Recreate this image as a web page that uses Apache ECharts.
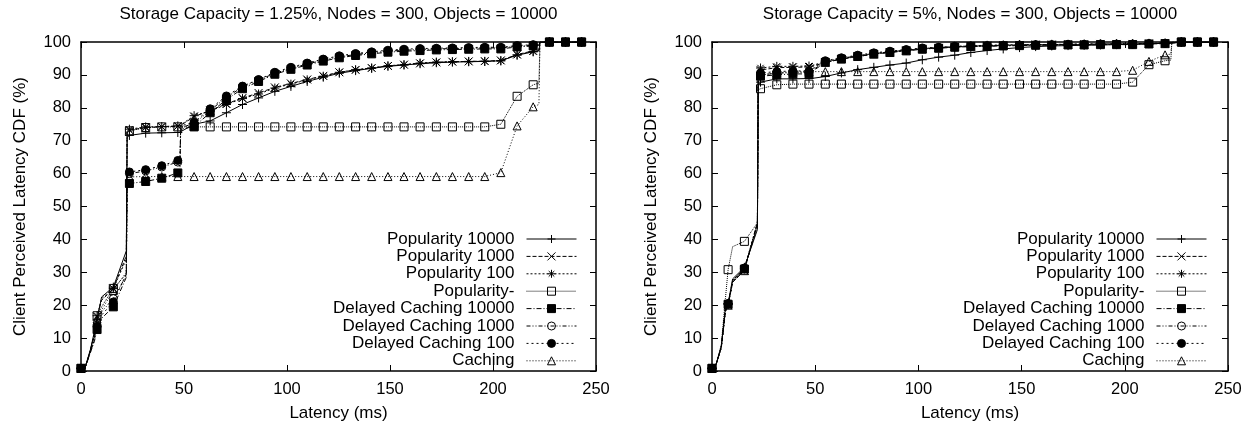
<!DOCTYPE html>
<html>
<head>
<meta charset="utf-8">
<script src="https://cdn.jsdelivr.net/npm/echarts@6/dist/echarts.min.js"></script>
<style>
  html, body { margin: 0; padding: 0; background: #fff; }
  #chart { width: 1249px; height: 427px; }
</style>
</head>
<body>
<div id="chart"></div>
<script>
// latency samples (ms), shared by every curve
const latency = [
  0, 2, 4.5, 6.5, 7.8, 10, 15.7, 22,
  22.4, 23.5, 31.4, 39.2, 47, 48, 48.4,
  54.9, 62.7, 70.6, 78.4, 86.2, 94.1, 101.9, 109.8, 117.6, 125.4,
  133.3, 141.1, 149, 156.8, 164.6, 172.5, 180.3, 188.2, 196, 203.8,
  211.7, 219.5, 222.3,
  222.8, 227.4, 235.2, 243
];
// samples that carry no point marker (curve shape only)
const noMarker = [2, 4.5, 6.5, 10, 22, 22.4, 48, 48.4, 222.3, 222.8];

const seriesNames = [
  'Popularity 10000', 'Popularity 1000', 'Popularity 100', 'Popularity-',
  'Delayed Caching 10000', 'Delayed Caching 1000', 'Delayed Caching 100', 'Caching'
];
const titles = [
  'Storage Capacity = 1.25%, Nodes = 300, Objects = 10000',
  'Storage Capacity = 5%, Nodes = 300, Objects = 10000'
];

// ---- left panel: storage capacity 1.25% ----
const leftPop10000 = [
  0.8, 1.2, 6.2, 12, 15.5, 22.5, 25.5, 36.5,
  71, 71.6, 72.3, 72.4, 72.5, 72.6, 72.7,
  75, 76, 78.5, 81, 83, 85, 86.5, 88, 89.3, 90.5,
  91.3, 92, 92.6, 93, 93.4, 93.7, 93.9, 94, 94.1, 94.3,
  96, 97, 97.3,
  100, 100, 100, 100
];
const leftPop1000 = [
  0.8, 1, 6, 11, 16.5, 21.5, 25, 35,
  72.5, 73.2, 74, 74.2, 74.4, 74.5, 74.6,
  77.3, 79.2, 81.2, 83, 84.5, 86.2, 87.4, 88.6, 89.7, 90.8,
  91.5, 92.1, 92.7, 93.1, 93.5, 93.8, 94, 94.1, 94.2, 94.4,
  96.2, 97.3, 97.5,
  100, 100, 100, 100
];
const leftPop100 = [
  0.8, 1, 6.2, 11.5, 16.8, 22, 25.1, 34,
  73, 73.5, 74.2, 74.3, 74.5, 74.6, 74.8,
  77.6, 79, 81, 82.8, 84.2, 86, 87.2, 88.5, 89.6, 90.8,
  91.6, 92.1, 92.8, 93.1, 93.6, 93.9, 94, 94.1, 94.1, 94.3,
  96.1, 97.1, 97.3,
  100, 100, 100, 100
];
const leftPopNone = [
  0.8, 1, 6.5, 11, 16.8, 19.5, 25.1, 29.5,
  72.5, 73, 74, 74.2, 74.2, 74.2, 74.2,
  74.2, 74.2, 74.2, 74.2, 74.2, 74.2, 74.2, 74.2, 74.2, 74.2,
  74.2, 74.2, 74.2, 74.2, 74.2, 74.2, 74.2, 74.2, 74.2, 75,
  83.5, 87, 87.5,
  100, 100, 100, 100
];
const leftDelayed10000 = [
  0.8, 1, 5.5, 9, 12.6, 16, 19.5, 28.5,
  56.5, 57, 57.6, 58.6, 60.2, 60.4, 73.5,
  74.3, 78.5, 82.5, 85.8, 88, 90.2, 91.7, 93, 94.2, 95.2,
  95.9, 96.4, 96.9, 97.2, 97.4, 97.6, 97.7, 97.8, 97.9, 97.9,
  98.5, 98.8, 99,
  100, 100, 100, 100
];
const leftDelayed1000 = [
  0.8, 1, 5.8, 10, 14, 18, 22, 29,
  59.5, 60, 60.8, 62, 63.5, 63.7, 74,
  75.2, 79.2, 83.2, 86.3, 88.4, 90.5, 92, 93.3, 94.5, 95.5,
  96.2, 96.7, 97.2, 97.5, 97.7, 97.9, 98, 98.1, 98.2, 98.2,
  98.7, 99, 99.2,
  100, 100, 100, 100
];
const leftDelayed100 = [
  0.8, 1, 5.6, 9.5, 13.5, 17, 21, 29.5,
  60, 60.5, 61.2, 62.4, 64, 64.2, 74.5,
  75.6, 79.7, 83.6, 86.6, 88.6, 90.8, 92.3, 93.6, 94.8, 95.8,
  96.5, 97, 97.5, 97.8, 98, 98.1, 98.2, 98.3, 98.4, 98.4,
  98.9, 99.2, 99.3,
  100, 100, 100, 100
];
const leftCaching = [
  0.8, 1, 6, 10.5, 15.8, 18.5, 24.5, 30,
  58.5, 59, 59.1, 59.1, 59.1, 59.1, 59.1,
  59.1, 59.1, 59.1, 59.1, 59.1, 59.1, 59.1, 59.1, 59.1, 59.1,
  59.1, 59.1, 59.1, 59.1, 59.1, 59.1, 59.1, 59.1, 59.1, 60.3,
  74.5, 80.3, 81,
  100, 100, 100, 100
];

// ---- right panel: storage capacity 5% ----
const rightPop10000 = [
  0.8, 2, 7.5, 19, 20.5, 28, 31.5, 43,
  87, 87.8, 88.8, 88.8, 88.9, 88.9, 88.9,
  89.5, 90.6, 91.6, 92.3, 93, 93.6, 94.6, 95.4, 96, 96.8,
  97.4, 97.9, 98.3, 98.6, 98.8, 98.9, 99, 99.1, 99.2, 99.3,
  99.5, 99.6, 99.7,
  100, 100, 100, 100
];
const rightPop1000 = [
  0.8, 2, 7, 18, 20, 27, 30.5, 45,
  91, 91.5, 92.2, 92.3, 92.4, 92.5, 92.6,
  93.8, 94.8, 95.6, 96.3, 96.9, 97.4, 97.9, 98.2, 98.5, 98.7,
  98.9, 99, 99.1, 99.2, 99.2, 99.3, 99.3, 99.4, 99.4, 99.4,
  99.5, 99.6, 99.7,
  100, 100, 100, 100
];
const rightPop100 = [
  0.8, 2, 7.2, 18.5, 20.2, 27.5, 31, 44.5,
  91.5, 92.1, 92.6, 92.6, 92.7, 92.8, 92.9,
  94, 95, 95.8, 96.5, 97, 97.5, 98, 98.3, 98.6, 98.8,
  99, 99.1, 99.2, 99.2, 99.3, 99.3, 99.4, 99.4, 99.5, 99.5,
  99.6, 99.7, 99.7,
  100, 100, 100, 100
];
const rightPopNone = [
  0.8, 2, 8, 22, 30.8, 37.8, 39.4, 45,
  85.5, 85.8, 87, 87.2, 87.2, 87.2, 87.2,
  87.2, 87.2, 87.2, 87.2, 87.2, 87.2, 87.2, 87.2, 87.2, 87.2,
  87.2, 87.2, 87.2, 87.2, 87.2, 87.2, 87.2, 87.2, 87.2, 87.8,
  93.1, 94.3, 94.5,
  100, 100, 100, 100
];
const rightDelayed10000 = [
  0.8, 2, 7.3, 18.5, 20.3, 27, 31, 44,
  89, 89.6, 90, 90.3, 90.3, 90.8, 91.3,
  93.8, 94.8, 95.6, 96.3, 96.8, 97.3, 97.8, 98.1, 98.4, 98.6,
  98.7, 98.8, 98.9, 99, 99, 99.1, 99.1, 99.2, 99.2, 99.2,
  99.4, 99.5, 99.6,
  100, 100, 100, 100
];
const rightDelayed1000 = [
  0.8, 2, 7.3, 18.7, 20.4, 27.2, 31.2, 44.5,
  89.5, 90, 90.5, 90.7, 90.8, 91.2, 91.6,
  94, 95, 95.8, 96.5, 97, 97.5, 98, 98.3, 98.5, 98.7,
  98.8, 98.9, 99, 99.1, 99.1, 99.2, 99.2, 99.3, 99.3, 99.3,
  99.5, 99.6, 99.7,
  100, 100, 100, 100
];
const rightDelayed100 = [
  0.8, 2, 7.4, 19, 20.5, 27.5, 31.3, 45,
  90, 90.6, 91, 91.2, 91.2, 91.6, 92,
  94.3, 95.2, 96, 96.7, 97.2, 97.7, 98.2, 98.4, 98.7, 98.8,
  98.9, 99, 99.1, 99.2, 99.2, 99.3, 99.3, 99.4, 99.4, 99.4,
  99.5, 99.6, 99.7,
  100, 100, 100, 100
];
const rightCaching = [
  0.8, 2, 7, 18, 20, 27, 30.5, 45.5,
  89.5, 90, 90.6, 91, 91, 91, 91,
  91, 91, 91, 91, 91, 91, 91, 91, 91, 91,
  91, 91, 91, 91, 91, 91, 91, 91, 91, 91.4,
  94.1, 96.1, 96.3,
  100, 100, 100, 100
];

const leftValues = [leftPop10000, leftPop1000, leftPop100, leftPopNone,
  leftDelayed10000, leftDelayed1000, leftDelayed100, leftCaching];
const rightValues = [rightPop10000, rightPop1000, rightPop100, rightPopNone,
  rightDelayed10000, rightDelayed1000, rightDelayed100, rightCaching];

const FONT = '"Liberation Sans", Arial, Helvetica, sans-serif';
const PLUS = 'path://M0,5L10,5M5,0L5,10';
const CROSS = 'path://M0,0L10,10M10,0L0,10';
const STAR = 'path://M0,5L10,5M5,0L5,10M1.5,1.5L8.5,8.5M8.5,1.5L1.5,8.5';

// gnuplot-like point / dash styles, one per curve
const styles = [
  { symbol: PLUS, size: 9, fill: 'transparent', dash: 'solid' },
  { symbol: CROSS, size: 8, fill: 'transparent', dash: [4, 2] },
  { symbol: STAR, size: 9, fill: 'transparent', dash: [2, 2] },
  { symbol: 'rect', size: 8, fill: 'transparent', dash: [1, 1] },
  { symbol: 'rect', size: 8, fill: '#000', dash: [5, 2, 1, 2] },
  { symbol: 'circle', size: 8, fill: 'transparent', dash: [4, 2, 1, 2, 1, 2] },
  { symbol: 'circle', size: 8, fill: '#000', dash: [2, 3] },
  { symbol: 'triangle', size: 8, fill: 'transparent', dash: [1, 2] }
];

function makeSeries(panel, values) {
  return seriesNames.map((name, k) => {
    const st = styles[k];
    return {
      name: name,
      type: 'line',
      xAxisIndex: panel * 2,
      yAxisIndex: panel * 2,
      data: latency.map((x, i) => noMarker.includes(x)
        ? { value: [x, values[k][i]], symbol: 'none' }
        : [x, values[k][i]]),
      symbol: st.symbol,
      symbolSize: st.size,
      showAllSymbol: true,
      lineStyle: { color: '#000', width: 1, type: st.dash },
      itemStyle: { color: st.fill, borderColor: '#000', borderWidth: 1 },
      emphasis: { disabled: true }
    };
  });
}

function xAxis(grid, pos) {
  const main = pos === 'bottom';
  return {
    type: 'value', gridIndex: grid, position: pos,
    min: 0, max: 250, interval: 50,
    axisLine: { show: true, onZero: false, lineStyle: { color: '#000', width: 1.5 } },
    axisTick: { show: true, inside: true, length: 6, lineStyle: { color: '#000', width: 1 } },
    axisLabel: { show: main, color: '#000', fontSize: 16.5, fontFamily: FONT, margin: 10 },
    splitLine: { show: false },
    name: main ? 'Latency (ms)' : '',
    nameLocation: 'middle', nameGap: 34,
    nameTextStyle: { color: '#000', fontSize: 17, fontFamily: FONT }
  };
}

function yAxis(grid, pos) {
  const main = pos === 'left';
  return {
    type: 'value', gridIndex: grid, position: pos,
    min: 0, max: 100, interval: 10,
    axisLine: { show: true, onZero: false, lineStyle: { color: '#000', width: 1.5 } },
    axisTick: { show: true, inside: true, length: 6, lineStyle: { color: '#000', width: 1 } },
    axisLabel: { show: main, color: '#000', fontSize: 16.5, fontFamily: FONT, margin: 10 },
    splitLine: { show: false },
    name: main ? 'Client Perceived Latency CDF (%)' : '',
    nameLocation: 'middle', nameGap: 52,
    nameTextStyle: { color: '#000', fontSize: 17, fontFamily: FONT }
  };
}

// one single-item legend per row so the keys line up on the right like gnuplot
const legends = [];
[672, 42].forEach(r => {
  seriesNames.forEach((name, k) => {
    legends.push({
      data: [name],
      orient: 'vertical',
      right: r,
      top: 230.5 + 17.4 * k,
      align: 'right',
      itemWidth: 50,
      itemHeight: 10,
      padding: 0,
      selectedMode: false,
      lineStyle: { width: 1 },
      itemStyle: { borderWidth: 1 },
      textStyle: { color: '#000', fontSize: 17, fontFamily: FONT, lineHeight: 17, padding: [0, 7, 0, 0] }
    });
  });
});

const chart = echarts.init(document.getElementById('chart'));
chart.setOption({
  animation: false,
  backgroundColor: '#fff',
  textStyle: { fontFamily: FONT },
  title: [
    { text: titles[0], left: 338.5, top: 6, textAlign: 'center', padding: 0,
      textStyle: { color: '#000', fontSize: 17, fontWeight: 'normal', fontFamily: FONT } },
    { text: titles[1], left: 970, top: 6, textAlign: 'center', padding: 0,
      textStyle: { color: '#000', fontSize: 17, fontWeight: 'normal', fontFamily: FONT } }
  ],
  legend: legends,
  grid: [
    { left: 81, top: 42, width: 515, height: 332 },
    { left: 712, top: 42, width: 516, height: 332 }
  ],
  xAxis: [xAxis(0, 'bottom'), xAxis(0, 'top'), xAxis(1, 'bottom'), xAxis(1, 'top')],
  yAxis: [yAxis(0, 'left'), yAxis(0, 'right'), yAxis(1, 'left'), yAxis(1, 'right')],
  series: makeSeries(0, leftValues).concat(makeSeries(1, rightValues))
});
</script>
</body>
</html>
